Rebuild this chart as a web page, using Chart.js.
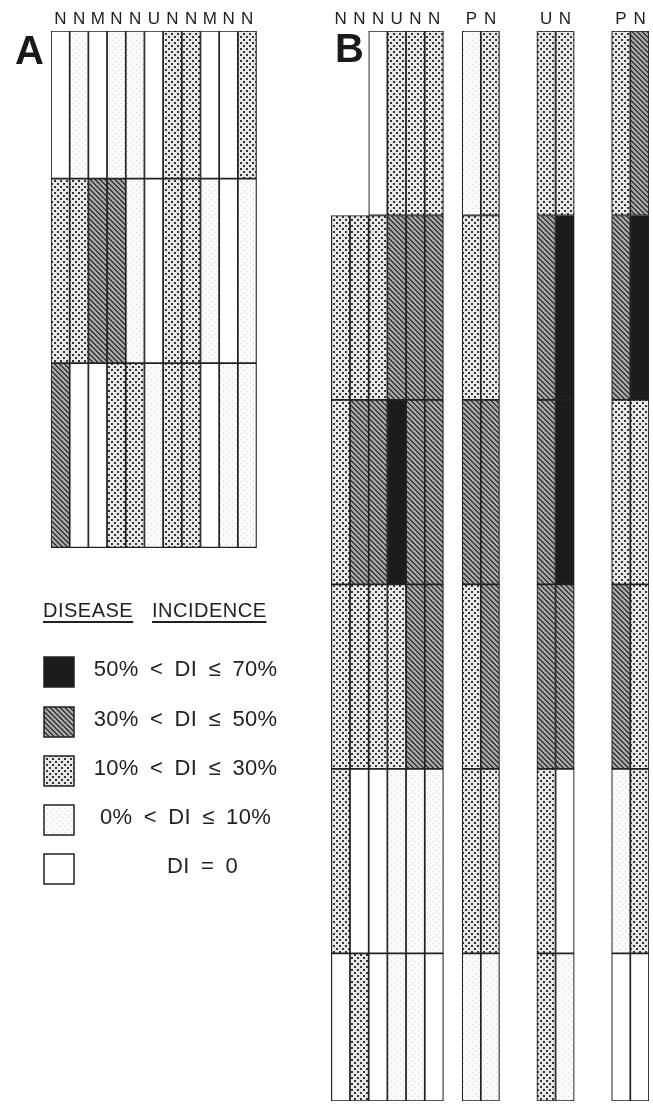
<!DOCTYPE html>
<html>
<head>
<meta charset="utf-8">
<script src="https://cdn.jsdelivr.net/npm/chart.js@4.4.1/dist/chart.umd.min.js"></script>
<style>
  body { margin: 0; background: #fff; }
  #wrap { position: relative; width: 653px; height: 1104px; }
  .tag { position: absolute; font: bold 40px "Liberation Sans", Arial, sans-serif; line-height: 1; color: #1a1a1a; }
  .title { position: absolute; top: 599px; font: 20px "Liberation Sans", Arial, sans-serif; letter-spacing: 0.5px;
           color: #222; text-decoration: underline; text-underline-offset: 4px; text-decoration-thickness: 1.5px; }
  .row { position: absolute; left: 43px; width: 240px; height: 32px; }
  .row canvas { position: absolute; left: 0; top: 0; }
  .row span { position: absolute; left: 45px; right: 0; top: 0; line-height: 32px; text-align: center; white-space: pre;
              font: 22px "Liberation Sans", Arial, sans-serif; color: #222; word-spacing: 5px; letter-spacing: 0.3px; }
</style>
</head>
<body>
<div id="wrap">
  <canvas id="chart"></canvas>
  <div class="tag" style="left:15px; top:30px">A</div>
  <div class="tag" style="left:335px; top:28px">B</div>
  <div class="title" style="left:43px">DISEASE</div>
  <div class="title" style="left:152px">INCIDENCE</div>
  <div id="legend"></div>
</div>
<script>
const FONT = '"Liberation Sans", Arial, sans-serif';

// labels along the top, one per column slot ('' = gap between groups)
const columnLabels = [
  'N', 'N', 'M', 'N', 'N', 'U', 'N', 'N', 'M', 'N', 'N',
  '', '', '', '',
  'N', 'N', 'N', 'U', 'N', 'N', '', 'P', 'N', '', '', 'U', 'N', '', '', 'P', 'N'
];

// slot of each sampled column
const slotsA = [0, 1, 2, 3, 4, 5, 6, 7, 8, 9, 10];
const slotsB = [15, 16, 17, 18, 19, 20, 22, 23, 26, 27, 30, 31];

// row edges, top to bottom
const rowEdgesA = [0, 8, 18, 28];
const rowEdgesB = [0, 10, 20, 30, 40, 50, 58];

// disease class per cell: 0 DI=0, 1 0-10%, 2 10-30%, 3 30-50%, 4 50-70%, null = none
const classesA = [
  [0, 1, 0, 1, 1, 0, 2, 2, 0, 0, 2],
  [2, 2, 3, 3, 1, 0, 2, 2, 1, 0, 1],
  [3, 0, 0, 2, 2, 1, 2, 2, 0, 1, 1],
];
const classesB = [
  [null, null, 0, 2, 2, 2, 1, 2, 2, 2, 2, 3],
  [2, 2, 2, 3, 3, 3, 2, 2, 3, 4, 3, 4],
  [2, 3, 3, 4, 3, 3, 3, 3, 3, 4, 2, 2],
  [2, 2, 2, 2, 3, 3, 2, 3, 3, 3, 3, 2],
  [2, 0, 0, 1, 1, 1, 2, 2, 2, 0, 1, 2],
  [0, 2, 0, 1, 1, 0, 1, 1, 2, 1, 0, 0],
];

const classNames = ['DI = 0', '0% < DI \u2264 10%', '10% < DI \u2264 30%', '30% < DI \u2264 50%', '50% < DI \u2264 70%'];

// fill patterns, one per class
function makeFill(level) {
  if (level === 4) return '#1c1c1c';
  if (level === 0) return '#ffffff';
  let c = document.createElement('canvas'), g = c.getContext('2d');
  if (level === 3) { // hatch
    c.width = c.height = 5;
    g.fillStyle = '#a6a6a6'; g.fillRect(0, 0, 5, 5);
    g.fillStyle = '#3c3c3c';
    for (let i = 0; i < 5; i++) { g.fillRect(i, i, 1, 1); g.fillRect((i + 1) % 5, i, 1, 1); }
  } else if (level === 2) { // dots
    c.width = c.height = 6;
    g.fillStyle = '#e8e8e8'; g.fillRect(0, 0, 6, 6);
    g.fillStyle = '#333333';
    g.fillRect(0, 0, 2, 2); g.fillRect(3, 3, 2, 2);
  } else { // faint dots
    c.width = c.height = 6;
    g.fillStyle = '#fbfbfb'; g.fillRect(0, 0, 6, 6);
    g.fillStyle = '#cfcfcf';
    g.fillRect(1, 1, 1, 1); g.fillRect(4, 4, 1, 1);
  }
  return g.createPattern(c, 'repeat');
}
const fills = [0, 1, 2, 3, 4].map(makeFill);

function rowDatasets(classes, edges, slots) {
  return classes.map((row, r) => {
    let data = columnLabels.map(() => null);
    let colors = columnLabels.map(() => 'transparent');
    row.forEach((c, i) => {
      if (c === null) return;
      data[slots[i]] = [edges[r], edges[r + 1]];
      colors[slots[i]] = fills[c];
    });
    return { data, backgroundColor: colors };
  });
}

new Chart(document.getElementById('chart'), {
  type: 'bar',
  data: {
    labels: columnLabels,
    datasets: [...rowDatasets(classesA, rowEdgesA, slotsA), ...rowDatasets(classesB, rowEdgesB, slotsB)]
  },
  options: {
    responsive: true, maintainAspectRatio: false, animation: false,
    layout: { padding: { left: 51, right: 4, top: 0, bottom: 3 } },
    plugins: { legend: { display: false }, tooltip: { enabled: false } },
    datasets: {
      bar: { grouped: false, barPercentage: 1, categoryPercentage: 1, borderWidth: 1.2, borderColor: '#222', borderSkipped: false }
    },
    scales: {
      x: {
        position: 'top',
        grid: { display: false, drawTicks: false }, border: { display: false },
        ticks: { autoSkip: false, maxRotation: 0, padding: 1, color: '#222', font: { family: FONT, size: 17 } },
        afterFit: s => { s.height = 31; }
      },
      y: { display: false, reverse: true, min: 0, max: 58 }
    }
  }
});

// legend
let legend = document.getElementById('legend');
[656, 706, 755, 804, 853].forEach((top, k) => {
  let level = 4 - k;
  let row = document.createElement('div');
  row.className = 'row';
  row.style.top = top + 'px';
  let sw = document.createElement('canvas');
  sw.width = sw.height = 32;
  let g = sw.getContext('2d');
  g.fillStyle = fills[level]; g.fillRect(1, 1, 30, 30);
  g.strokeStyle = '#222'; g.lineWidth = 1.5; g.strokeRect(1, 1, 30, 30);
  let txt = document.createElement('span');
  txt.textContent = classNames[level];
  if (level === 0) txt.style.paddingLeft = '34px';
  row.appendChild(sw); row.appendChild(txt);
  legend.appendChild(row);
});
</script>
</body>
</html>
